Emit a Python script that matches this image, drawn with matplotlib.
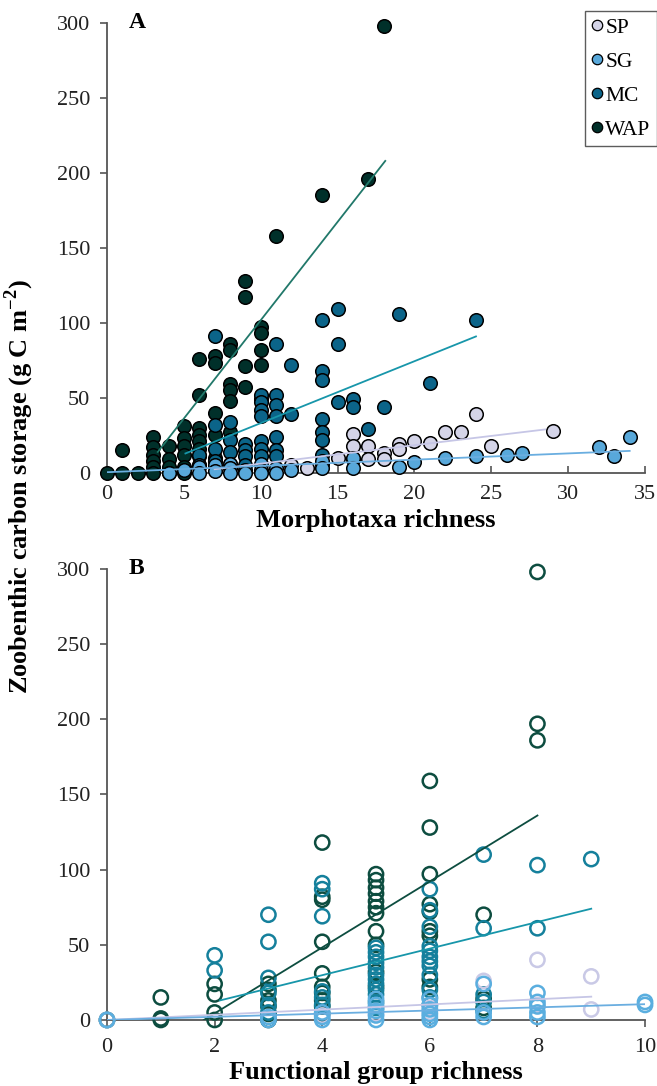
import matplotlib.pyplot as plt
from matplotlib.lines import Line2D

plt.rcParams['font.family'] = ['Liberation Serif', 'DejaVu Serif']
plt.rcParams['mathtext.fontset'] = 'custom'
plt.rcParams['mathtext.rm'] = 'Liberation Serif'
plt.rcParams['mathtext.bf'] = 'Liberation Serif:bold'

# ---- Panel A: morphotaxa richness ----
a_wap_x = [0, 1, 1, 2, 3, 3, 3, 3, 3, 3, 4, 4, 4, 4, 5, 5, 5, 5, 5, 5,
           6, 6, 6, 6, 6, 6, 6, 6, 7, 7, 7, 7, 7, 8, 8, 8, 8, 8, 8,
           9, 9, 9, 9, 10, 10, 10, 10, 10, 11, 14, 17, 18]
a_wap_y = [0, 15, 0, 0, 24, 17, 12, 8, 4, 0, 18, 9, 4, 0, 31, 23, 18, 12, 4, 0,
           76, 52, 30, 25, 21, 16, 11, 5, 78, 73, 40, 25, 10, 86, 82, 59, 55, 48, 27,
           128, 117, 71, 57, 97, 93, 82, 72, 49, 158, 185, 196, 298]

a_mc_x = [6, 6, 7, 7, 7, 7, 8, 8, 8, 8, 9, 9, 9, 9, 10, 10, 10, 10, 10, 10, 10,
          11, 11, 11, 11, 11, 11, 11, 12, 12, 14, 14, 14, 14, 14, 14, 14,
          15, 15, 15, 16, 16, 17, 18, 19, 21, 24]
a_mc_y = [12, 5, 91, 32, 16, 8, 34, 22, 14, 6, 19, 15, 11, 5, 52, 47, 42, 38, 21, 16, 11,
          86, 52, 45, 38, 24, 15, 11, 72, 39, 102, 68, 62, 36, 27, 22, 12,
          109, 86, 47, 49, 44, 29, 44, 106, 60, 102]

a_sp_x = [12, 13, 14, 15, 16, 16, 16, 17, 17, 18, 18, 19, 19, 20, 21, 22, 23, 24, 25, 29]
a_sp_y = [5, 3, 6, 10, 26, 18, 9, 18, 9, 13, 9, 19, 16, 21, 20, 27, 27, 39, 18, 28]

a_sg_x = [4, 5, 6, 6, 7, 7, 8, 8, 8, 9, 9, 10, 10, 10, 11, 11, 12, 14, 14,
          16, 16, 19, 20, 22, 24, 26, 27, 32, 33, 34]
a_sg_y = [0, 2, 4, 0, 5, 1, 6, 3, 0, 2, 0, 6, 2, 0, 3, 0, 2, 8, 3,
          10, 3, 4, 7, 10, 11, 12, 13, 17, 11, 24]

# fitted trend lines (end points)
a_fit_wap = ([3.3, 18.1], [14, 208])
a_fit_mc = ([5.1, 24.0], [13, 91])
a_fit_sp = ([7.0, 28.5], [2.5, 29])
a_fit_sg = ([0, 34], [0.5, 14.7])

# ---- Panel B: functional group richness ----
b_wap_x = [0, 1, 1, 1, 2, 2, 2, 2, 3, 3, 3, 3, 3, 3,
           4, 4, 4, 4, 4, 4, 4, 4, 4, 4,
           5, 5, 5, 5, 5, 5, 5, 5, 5, 5, 5,
           6, 6, 6, 6, 6, 6, 6, 6, 6, 7, 7, 7, 8, 8, 8]
b_wap_y = [0, 15, 0, 1, 24, 17, 5, 0, 24, 20, 13, 9, 4, 0,
           118, 82, 80, 52, 31, 22, 18, 13, 9, 4,
           97, 93, 88, 84, 79, 75, 71, 59, 50, 32, 22,
           159, 128, 97, 77, 72, 59, 56, 27, 22, 70, 14, 8, 298, 197, 186]

b_mc_x = [0, 2, 2, 3, 3, 3, 3, 3, 3, 4, 4, 4, 4, 4, 4,
          5, 5, 5, 5, 5, 5, 5, 5, 5, 5, 5, 5,
          6, 6, 6, 6, 6, 6, 6, 6, 6, 6, 6, 6,
          7, 7, 7, 7, 7, 8, 8, 9]
b_mc_y = [0, 43, 33, 70, 52, 28, 18, 10, 5, 91, 87, 69, 19, 15, 10,
          48, 45, 42, 38, 35, 30, 27, 24, 20, 17, 12, 8,
          87, 73, 62, 49, 46, 42, 39, 36, 30, 20, 15, 10,
          110, 61, 17, 12, 6, 103, 61, 107]

b_sg_x = [0, 3, 3, 4, 4, 4, 5, 5, 5, 5, 5, 6, 6, 6, 6, 6, 6,
          7, 7, 7, 8, 8, 8, 8, 8, 10, 10]
b_sg_y = [0, 0, 2, 0, 2, 5, 0, 3, 6, 10, 14, 0, 2, 4, 7, 10, 14,
          24, 2, 5, 18, 12, 9, 5, 2, 12, 10]

b_sp_x = [0, 4, 5, 6, 6, 7, 8, 8, 9, 9]
b_sp_y = [0, 3, 4, 5, 8, 26, 40, 10, 29, 7]

b_fit_wap = ([1.8, 8.0], [0, 136])
b_fit_mc = ([2.1, 9.0], [13, 74])
b_fit_sp = ([0, 9], [0, 15.5])
b_fit_sg = ([0, 10], [0, 10.5])

# colours
c_sp, c_sg, c_mc, c_wap = '#d4d4e8', '#58a8da', '#0b6489', '#00302a'
b_sp, b_sg, b_mc, b_wap = '#c9c9e6', '#5aaedf', '#15809c', '#0d4d40'
l_sp, l_sg, l_mc, l_wap = '#c6c6e6', '#6aaee0', '#1796aa', '#21786a'

fig = plt.figure(figsize=(6.57, 10.86), dpi=100)
axA = fig.add_axes([0.1629, 0.5645, 0.8189, 0.4144])
axB = fig.add_axes([0.1629, 0.0608, 0.8189, 0.4153])

for ax in (axA, axB):
    ax.set_ylim(0, 300)
    ax.set_yticks(range(0, 301, 50))
    for s in ('top', 'right'):
        ax.spines[s].set_visible(False)
    for s in ('left', 'bottom'):
        ax.spines[s].set_color('#555555')
        ax.spines[s].set_linewidth(1.3)
    ax.tick_params(axis='both', labelsize=16, colors='#555555', labelcolor='#222222',
                   length=5, width=1.2)
    ax.tick_params(axis='y', pad=7)
    ax.tick_params(axis='x', pad=8)

# panel A scatter
kw = dict(s=95, edgecolors='black', linewidths=1.1, clip_on=False, zorder=3)
axA.scatter(a_wap_x, a_wap_y, color=c_wap, **kw)
axA.scatter(a_mc_x, a_mc_y, color=c_mc, **kw)
axA.scatter(a_sp_x, a_sp_y, color=c_sp, **kw)
axA.scatter(a_sg_x, a_sg_y, color=c_sg, **kw)
for (fx, fy), c in [(a_fit_wap, l_wap), (a_fit_mc, l_mc), (a_fit_sp, l_sp), (a_fit_sg, l_sg)]:
    axA.plot(fx, fy, color=c, lw=1.3, zorder=4)
axA.set_xlim(0, 35)
axA.set_xticks(range(0, 36, 5))
axA.tick_params(axis='x', direction='in', pad=9)
axA.set_xlabel('Morphotaxa richness', fontsize=19, fontweight='bold', labelpad=3)
axA.text(0.04, 1.0, 'A', transform=axA.transAxes, fontsize=17, fontweight='bold', va='center')

# panel B scatter (open circles)
kwb = dict(s=105, facecolors='none', linewidths=1.8, clip_on=False, zorder=3)
axB.scatter(b_wap_x, b_wap_y, edgecolors=b_wap, **kwb)
axB.scatter(b_mc_x, b_mc_y, edgecolors=b_mc, **kwb)
axB.scatter(b_sp_x, b_sp_y, edgecolors=b_sp, **kwb)
axB.scatter(b_sg_x, b_sg_y, edgecolors=b_sg, **kwb)
for (fx, fy), c in [(b_fit_wap, b_wap), (b_fit_mc, l_mc), (b_fit_sp, l_sp), (b_fit_sg, l_sg)]:
    axB.plot(fx, fy, color=c, lw=1.3, zorder=4)
axB.set_xlim(0, 10)
axB.set_xticks(range(0, 11, 2))
axB.set_xlabel('Functional group richness', fontsize=19, fontweight='bold', labelpad=3)
axB.text(0.04, 1.0, 'B', transform=axB.transAxes, fontsize=17, fontweight='bold', va='center')

fig.text(0.03, 0.552, 'Zoobenthic carbon storage (g C m$^{\\mathbf{-2}}$)', rotation=90,
         fontsize=19, fontweight='bold', ha='center', va='center')

handles = [Line2D([], [], ls='none', marker='o', markersize=7.5, markerfacecolor=c,
                  markeredgecolor='black', markeredgewidth=0.9)
           for c in (c_sp, c_sg, c_mc, c_wap)]
fig.legend(handles, ['SP', 'SG', 'MC', 'WAP'], loc='upper left',
           bbox_to_anchor=(585 / 657, 1 - 11 / 1086), fontsize=15.5, frameon=True,
           fancybox=False, edgecolor='#333333', handlelength=0.55, handletextpad=0.1,
           labelspacing=0.65, borderpad=0.3, borderaxespad=0)

plt.savefig('out.png', dpi=100)
